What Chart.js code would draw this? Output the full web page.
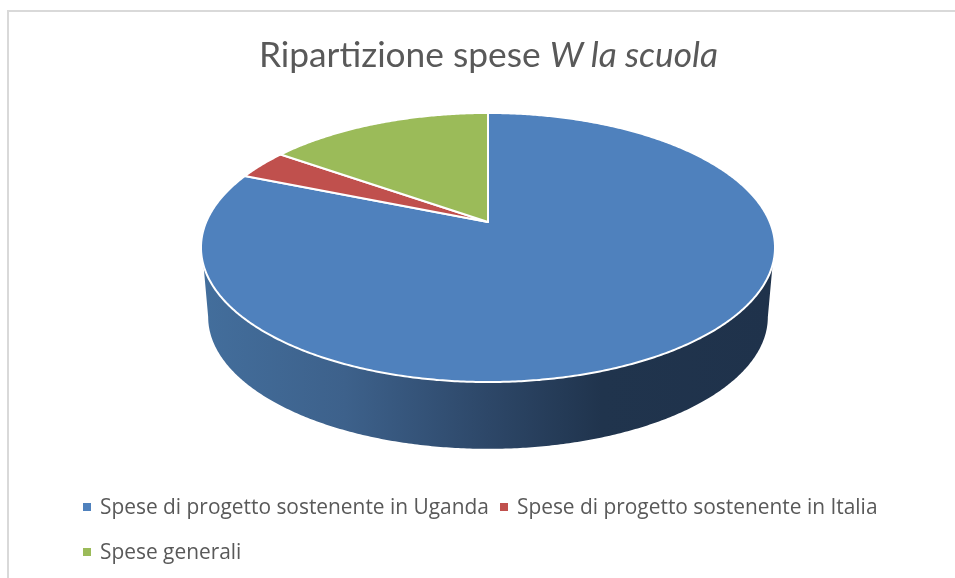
<!DOCTYPE html>
<html>
<head>
<meta charset="utf-8">
<script src="https://cdn.jsdelivr.net/npm/chart.js@4"></script>
<style>
  body { margin: 0; background: #fff; width: 955px; height: 578px; overflow: hidden; position: relative; font-family: "Open Sans", sans-serif; color: #595959; }
  #frame { position: absolute; left: 7px; top: 10px; right: 0; bottom: 0; border-left: 2px solid #d9d9d9; border-top: 2px solid #d9d9d9; }
  canvas { position: absolute; left: 0; top: 0; }
  #title { position: absolute; left: 0; width: 977px; top: 32px; text-align: center; font-family: "Lato", sans-serif; font-weight: 400; font-size: 35.3px; line-height: 44px; white-space: nowrap; }
  #legend { position: absolute; left: 83px; top: 484px; width: 830px; display: flex; flex-wrap: wrap; font-size: 20.9px; line-height: 45px; }
  .item { display: flex; align-items: center; white-space: nowrap; margin-right: 11px; }
  .box { width: 8px; height: 8px; margin-right: 9px; }
</style>
</head>
<body>
<div id="frame"></div>
<canvas id="pie" width="955" height="578"></canvas>
<div id="title">Ripartizione spese <i>W la scuola</i></div>
<div id="legend"></div>
<script>
const categories = ["Spese di progetto sostenente in Uganda", "Spese di progetto sostenente in Italia", "Spese generali"];
const values = [81.2, 3.6, 15.2];
const colors = ["#4f81bd", "#c0504d", "#9bbb59"];

// Perspective of the tilted disc
const pieX = 488, pieY = 222;
const radiusX = 281.8, radiusY = 129.7, tilt = 0.1896;
const wallDrop = 70, wallScaleX = 0.975, wallScaleY = 0.98;

function project(angle, drop, scaleX, scaleY) {
  const w = 1 - tilt * Math.sin(angle);
  return [
    pieX + scaleX * radiusX * Math.cos(angle) / w,
    pieY + drop + scaleY * radiusY * Math.sin(angle) / w
  ];
}

const pie3d = {
  id: "pie3d",
  beforeDatasetDraw(chart) {
    const ctx = chart.ctx;
    const arcs = chart.getDatasetMeta(0).data;
    const step = Math.PI / 360;

    // Side wall, only the front is visible
    const topEdge = Math.asin(0.312), lowEdge = Math.asin(tilt);
    const grad = ctx.createLinearGradient(203, 0, 773, 0);
    grad.addColorStop(0, "#436e9c");
    grad.addColorStop(0.25, "#3d618b");
    grad.addColorStop(0.5, "#2d4768");
    grad.addColorStop(0.7, "#20344d");
    grad.addColorStop(1, "#1f324b");
    ctx.save();
    ctx.beginPath();
    for (let a = topEdge; a <= Math.PI - topEdge; a += step) ctx.lineTo(...project(a, 0, 1, 1));
    for (let a = Math.PI - lowEdge; a >= lowEdge; a -= step) ctx.lineTo(...project(a, wallDrop, wallScaleX, wallScaleY));
    ctx.closePath();
    ctx.fillStyle = grad;
    ctx.fill();

    // Top face, angles come from the arc elements
    ctx.lineJoin = "round";
    arcs.forEach((arc, i) => {
      ctx.beginPath();
      ctx.moveTo(pieX, pieY);
      for (let a = arc.startAngle; a < arc.endAngle; a += step) ctx.lineTo(...project(a, 0, 1, 1));
      ctx.lineTo(...project(arc.endAngle, 0, 1, 1));
      ctx.closePath();
      ctx.fillStyle = arc.options.backgroundColor;
      ctx.fill();
      ctx.strokeStyle = "#fff";
      ctx.lineWidth = 2;
      ctx.stroke();
    });
    ctx.restore();
    return false;
  }
};

const chart = new Chart(document.getElementById("pie"), {
  type: "pie",
  data: {
    labels: categories,
    datasets: [{ data: values, backgroundColor: colors, borderWidth: 0 }]
  },
  options: {
    responsive: false,
    animation: false,
    plugins: {
      legend: { display: false },
      tooltip: { enabled: false }
    }
  },
  plugins: [pie3d]
});

// Html legend, the rows and the gaps between items differ
const legendBox = document.getElementById("legend");
chart.options.plugins.legend.labels.generateLabels(chart).forEach((item) => {
  const row = document.createElement("div");
  row.className = "item";
  const box = document.createElement("span");
  box.className = "box";
  box.style.background = item.fillStyle;
  row.appendChild(box);
  row.appendChild(document.createTextNode(item.text));
  legendBox.appendChild(row);
});
</script>
</body>
</html>
